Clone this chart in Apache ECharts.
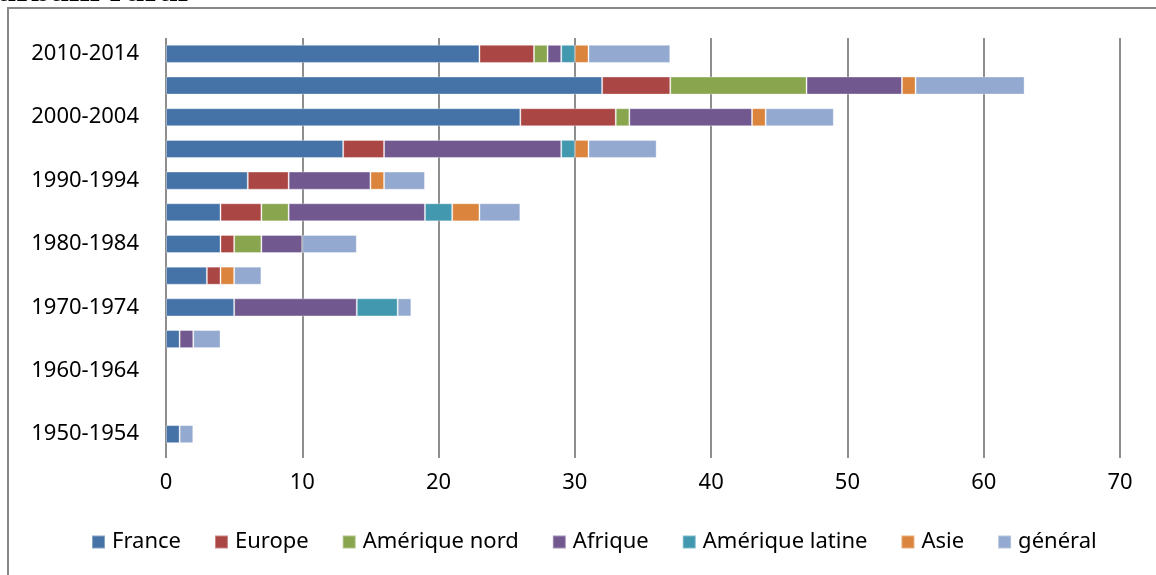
<!DOCTYPE html>
<html><head><meta charset="utf-8">
<script src="https://cdn.jsdelivr.net/npm/echarts@6/dist/echarts.min.js"></script>
<style>html,body{margin:0;padding:0;background:#fff}#c{width:1156px;height:575px}</style>
</head><body><div id="c"></div>
<script>
var categories = ['1950-1954','1955-1959','1960-1964','1965-1969','1970-1974','1975-1979','1980-1984','1985-1989','1990-1994','1995-1999','2000-2004','2005-2009','2010-2014'];
var france        = [1,0,0,1,5,3,4,4,6,13,26,32,23];
var europe        = [0,0,0,0,0,1,1,3,3,3,7,5,4];
var ameriqueNord  = [0,0,0,0,0,0,2,2,0,0,1,10,1];
var afrique       = [0,0,0,1,9,0,3,10,6,13,9,7,1];
var ameriqueLat   = [0,0,0,0,3,0,0,2,0,1,0,0,1];
var asie          = [0,0,0,0,0,1,0,2,1,1,1,1,1];
var general       = [1,0,0,2,1,2,4,3,3,5,5,8,6];
var xTicks = [0,10,20,30,40,50,60,70];

var names = ['France','Europe','Amérique nord','Afrique','Amérique latine','Asie','général'];
var colors = ['#4572A7','#AA4643','#89A54E','#71588F','#4198AF','#DB843D','#93A9CF'];
var datas = [france, europe, ameriqueNord, afrique, ameriqueLat, asie, general];
var FONT = 'Noto Sans';

var series = names.map(function(n,i){
  return {name:n,type:'bar',stack:'s',
    data:datas[i].map(function(v){return v===0?'-':v;}),
    barCategoryGap:'43%',
    itemStyle:{color:colors[i],borderColor:'rgba(255,255,255,0.35)',borderWidth:1},
    emphasis:{disabled:true}};
});

var chart = echarts.init(document.getElementById('c'));
chart.setOption({
  animation:false,
  textStyle:{fontFamily:FONT},
  grid:{left:166,right:36,top:38,bottom:125,containLabel:false},
  xAxis:{type:'value',min:xTicks[0],max:xTicks[xTicks.length-1],interval:10,
    axisLine:{show:false},axisTick:{show:true,length:8,lineStyle:{color:'#8e8e8e',width:2}},
    splitLine:{show:true,lineStyle:{color:'#8e8e8e',width:2}},
    axisLabel:{color:'#000',fontSize:22,fontFamily:FONT,margin:22}},
  yAxis:{type:'category',data:categories,
    axisLine:{show:false},axisTick:{show:false},
    axisLabel:{interval:1,color:'#000',fontSize:22,fontFamily:FONT,margin:27}},
  legend:{data:names,top:526,left:86,itemWidth:13,itemHeight:13,itemGap:33,
    icon:'rect',textStyle:{color:'#000',fontSize:22,fontFamily:FONT,padding:[0,0,0,2]}},
  graphic:[
    {type:'rect',shape:{x:8,y:8,width:1170,height:600},style:{fill:'none',stroke:'#888',lineWidth:2},silent:true,z:-1},
    {type:'text',x:-4,y:8,style:{text:'urbain rural»',font:'bold 28px "DejaVu Serif"',fill:'#000',textVerticalAlign:'bottom',verticalAlign:'bottom'},z:10}
  ],
  series:series
});
</script></body></html>
